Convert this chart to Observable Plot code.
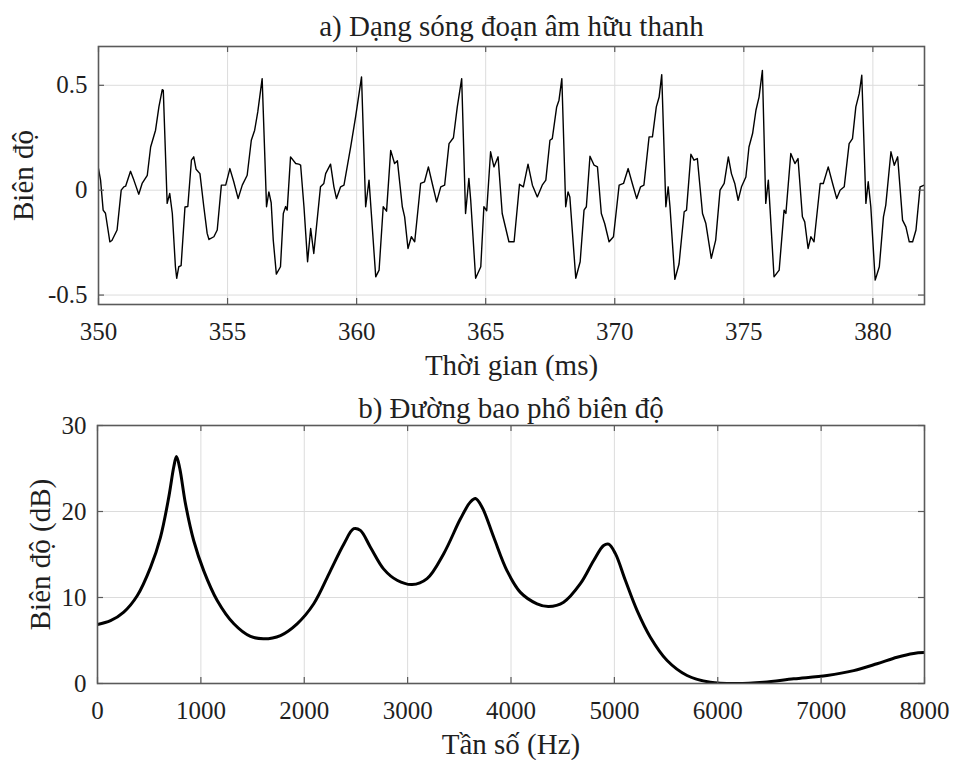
<!DOCTYPE html>
<html><head><meta charset="utf-8">
<script src="https://cdn.jsdelivr.net/npm/d3@7"></script>
<script src="https://cdn.jsdelivr.net/npm/@observablehq/plot@0.6"></script>
<style>
body{margin:0;background:#fff;}
#chart{position:relative;width:953px;height:760px;background:#fff;}
#chart svg{display:block;}
#chart svg text{font-family:'Liberation Serif','Times New Roman',serif;}
</style></head><body><div id="chart"></div>
<script>
// ---- Panel a: waveform (time in ms, amplitude) ----
const timeMs = [350.00,350.08,350.18,350.27,350.44,350.52,350.72,350.88,350.98,351.05,351.24,351.37,351.56,351.69,351.89,352.02,352.21,352.34,352.47,352.51,352.66,352.76,352.86,352.98,353.03,353.11,353.20,353.35,353.46,353.60,353.69,353.78,353.93,354.08,354.21,354.28,354.47,354.60,354.76,354.93,355.09,355.24,355.41,355.57,355.76,355.92,356.05,356.17,356.34,356.51,356.60,356.69,356.77,356.89,357.05,357.16,357.25,357.31,357.44,357.64,357.76,357.83,357.96,358.10,358.22,358.34,358.60,358.73,358.80,358.99,359.12,359.22,359.38,359.51,359.77,359.96,360.19,360.35,360.48,360.57,360.74,360.87,361.03,361.16,361.32,361.47,361.58,361.77,361.86,361.99,362.12,362.25,362.48,362.63,362.78,362.93,363.10,363.26,363.41,363.58,363.75,363.90,364.07,364.22,364.35,364.42,364.61,364.81,364.93,365.04,365.19,365.32,365.48,365.64,365.90,366.10,366.31,366.46,366.64,366.81,367.00,367.19,367.33,367.49,367.58,367.75,367.84,367.95,368.10,368.19,368.26,368.49,368.66,368.81,368.90,369.04,369.20,369.33,369.48,369.61,369.78,369.95,370.17,370.34,370.52,370.68,370.85,371.00,371.13,371.33,371.46,371.61,371.72,371.82,371.98,372.07,372.14,372.33,372.49,372.69,372.78,372.95,373.07,373.20,373.40,373.53,373.74,373.91,374.08,374.24,374.40,374.52,374.65,374.78,374.91,375.08,375.20,375.34,375.47,375.59,375.72,375.85,375.95,376.02,376.17,376.37,376.56,376.63,376.82,376.98,377.10,377.27,377.36,377.49,377.60,377.72,377.96,378.08,378.27,378.44,378.60,378.73,378.89,379.08,379.21,379.34,379.47,379.57,379.73,379.82,379.92,380.09,380.25,380.41,380.50,380.70,380.83,380.96,381.15,381.28,381.41,381.54,381.67,381.83,382.00];
const amplitude = [0.103,0.048,-0.095,-0.11,-0.246,-0.24,-0.19,0.0,0.016,0.019,0.09,0.048,-0.019,0.032,0.071,0.206,0.286,0.397,0.479,0.476,-0.063,-0.016,-0.111,-0.365,-0.42,-0.365,-0.36,-0.08,-0.078,0.143,0.159,0.10,0.079,-0.079,-0.206,-0.235,-0.222,-0.19,0.024,0.025,0.103,0.04,-0.04,0.024,0.071,0.238,0.286,0.373,0.532,-0.079,-0.008,-0.06,-0.238,-0.40,-0.365,-0.111,-0.078,-0.095,0.159,0.127,0.124,0.12,-0.079,-0.341,-0.183,-0.302,0.016,0.032,0.079,0.124,0.016,-0.04,0.016,0.024,0.206,0.349,0.54,-0.079,0.048,-0.111,-0.413,-0.381,-0.079,-0.10,0.19,0.127,0.14,-0.079,-0.127,-0.278,-0.222,-0.246,0.032,0.04,0.111,0.032,-0.056,0.016,0.024,0.222,0.25,0.397,0.532,-0.111,0.056,-0.048,-0.42,-0.365,-0.079,-0.098,0.183,0.111,0.159,-0.111,-0.246,-0.246,0.028,0.016,0.124,0.024,-0.032,0.024,0.048,0.238,0.246,0.397,0.429,0.532,-0.079,-0.008,-0.032,-0.42,-0.341,-0.095,-0.079,0.162,0.119,0.111,-0.111,-0.159,-0.246,-0.222,0.024,0.032,0.103,0.032,-0.04,0.016,0.024,0.254,0.254,0.397,0.444,0.551,-0.079,0.016,-0.079,-0.425,-0.352,-0.103,-0.095,0.171,0.143,0.151,-0.111,-0.159,-0.325,-0.238,0.0,0.032,0.159,0.079,0.032,-0.048,0.016,0.063,0.206,0.27,0.381,0.444,0.571,-0.063,0.048,-0.095,-0.413,-0.381,-0.095,-0.111,0.175,0.127,0.151,-0.127,-0.151,-0.278,-0.222,-0.246,0.032,0.032,0.111,0.032,-0.04,0.0,0.016,0.222,0.246,0.397,0.46,0.548,-0.063,0.04,-0.079,-0.429,-0.365,-0.127,-0.071,0.183,0.119,0.159,-0.143,-0.175,-0.246,-0.246,-0.19,0.016,0.024];
const timeTicks = [350,355,360,365,370,375,380];
const ampTicks = [-0.5,0,0.5];
const titleA = "a) Dạng sóng đoạn âm hữu thanh";
const xLabelA = "Thời gian (ms)";
const yLabelA = "Biên độ";

// ---- Panel b: spectral envelope (Hz, dB) ----
const freqHz = [0,126,254,384,513,609,690,738,764,796,851,931,1028,1158,1319,1480,1609,1770,1931,2092,2253,2382,2479,2543,2640,2769,2898,3043,3188,3349,3511,3607,3656,3720,3833,3962,4091,4252,4364,4509,4671,4800,4896,4945,5010,5106,5219,5348,5510,5703,5928,6186,6444,6735,7057,7315,7541,7735,7895,8000];
const levelDb = [6.86,7.3,8.3,10.2,13.5,17.0,21.7,25.2,26.4,25.0,20.9,16.6,13.1,9.65,6.94,5.47,5.2,5.58,6.94,9.27,13.1,16.2,18.0,17.8,15.85,13.3,12.0,11.5,12.2,15.1,19.15,21.1,21.5,20.5,17.0,13.1,10.6,9.27,8.95,9.45,11.6,14.3,16.05,16.2,15.1,12.0,8.5,5.38,2.67,0.93,0.15,0.0,0.15,0.54,0.93,1.5,2.3,3.06,3.5,3.6];
const freqTicks = [0,1000,2000,3000,4000,5000,6000,7000,8000];
const dbTicks = [0,10,20,30];
const titleB = "b) Đường bao phổ biên độ";
const xLabelB = "Tần số (Hz)";
const yLabelB = "Biên độ (dB)";

const wave = timeMs.map((t, i) => ({t, a: amplitude[i]}));
const spec = freqHz.map((f, i) => ({f, db: levelDb[i]}));

const FONT = "'Liberation Serif', 'Times New Roman', serif";
const TXT = "#1f1f1f";
const GRID = "#dcdcdc";
const FRAME = "#5a5a5a";

function panel({data, xKey, yKey, xDomain, yDomain, xTicks, yTicks, title, xLabel, yLabel,
                mTop, mBottom, mLeft, mRight, lineWidth, curve, yLabelDx, titleDy}) {
  const W = 953, H = 380;
  const innerH = H - mTop - mBottom, innerW = W - mLeft - mRight;
  const tk = 6;
  return Plot.plot({
    width: W, height: H,
    marginTop: mTop, marginBottom: mBottom, marginLeft: mLeft, marginRight: mRight,
    style: {fontFamily: FONT, color: TXT, background: "#fff", overflow: "visible"},
    x: {domain: xDomain},
    y: {domain: yDomain},
    marks: [
      Plot.gridX(xTicks, {stroke: GRID, strokeOpacity: 1, strokeWidth: 1}),
      Plot.gridY(yTicks, {stroke: GRID, strokeOpacity: 1, strokeWidth: 1}),
      Plot.line(data, {x: xKey, y: yKey, stroke: "#000", strokeWidth: lineWidth, curve, clip: true}),
      Plot.tickX(xTicks, {x: d => d, stroke: FRAME, strokeWidth: 1.2, insetTop: innerH - tk}),
      Plot.tickX(xTicks, {x: d => d, stroke: FRAME, strokeWidth: 1.2, insetBottom: innerH - tk}),
      Plot.tickY(yTicks, {y: d => d, stroke: FRAME, strokeWidth: 1.2, insetRight: innerW - tk}),
      Plot.tickY(yTicks, {y: d => d, stroke: FRAME, strokeWidth: 1.2, insetLeft: innerW - tk}),
      Plot.frame({stroke: FRAME, strokeWidth: 1.6}),
      Plot.axisX(xTicks, {anchor: "bottom", tickSize: 0, tickPadding: 18, fontSize: 25, fontFamily: FONT, fill: TXT, label: null, tickFormat: d => String(d)}),
      Plot.axisY(yTicks, {anchor: "left", tickSize: 0, tickPadding: 11, fontSize: 25, fontFamily: FONT, fill: TXT, label: null, tickFormat: d => String(d)}),
      Plot.text([title], {text: d => d, frameAnchor: "top", lineAnchor: "middle", textAnchor: "middle", dy: titleDy, fontSize: 29, fontFamily: FONT, fill: TXT}),
      Plot.text([xLabel], {text: d => d, frameAnchor: "bottom", lineAnchor: "middle", textAnchor: "middle", dy: 61, fontSize: 29, fontFamily: FONT, fill: TXT}),
      Plot.text([yLabel], {text: d => d, frameAnchor: "left", lineAnchor: "middle", textAnchor: "middle", rotate: -90, dx: yLabelDx, fontSize: 29, fontFamily: FONT, fill: TXT})
    ]
  });
}

const panelA = panel({data: wave, xKey: "t", yKey: "a", xDomain: [350, 382], yDomain: [-0.545, 0.685],
  xTicks: timeTicks, yTicks: ampTicks, title: titleA, xLabel: xLabelA, yLabel: yLabelA,
  mTop: 46, mBottom: 76, mLeft: 98, mRight: 29, lineWidth: 1.4, curve: "linear", yLabelDx: -75, titleDy: -20});
const panelB = panel({data: spec, xKey: "f", yKey: "db", xDomain: [0, 8000], yDomain: [0, 30],
  xTicks: freqTicks, yTicks: dbTicks, title: titleB, xLabel: xLabelB, yLabel: yLabelB,
  mTop: 45, mBottom: 77, mLeft: 97, mRight: 29, lineWidth: 3, curve: "catmull-rom", yLabelDx: -57, titleDy: -17});

const chart = document.getElementById("chart");
chart.appendChild(panelA);
chart.appendChild(panelB);
</script></body></html>
